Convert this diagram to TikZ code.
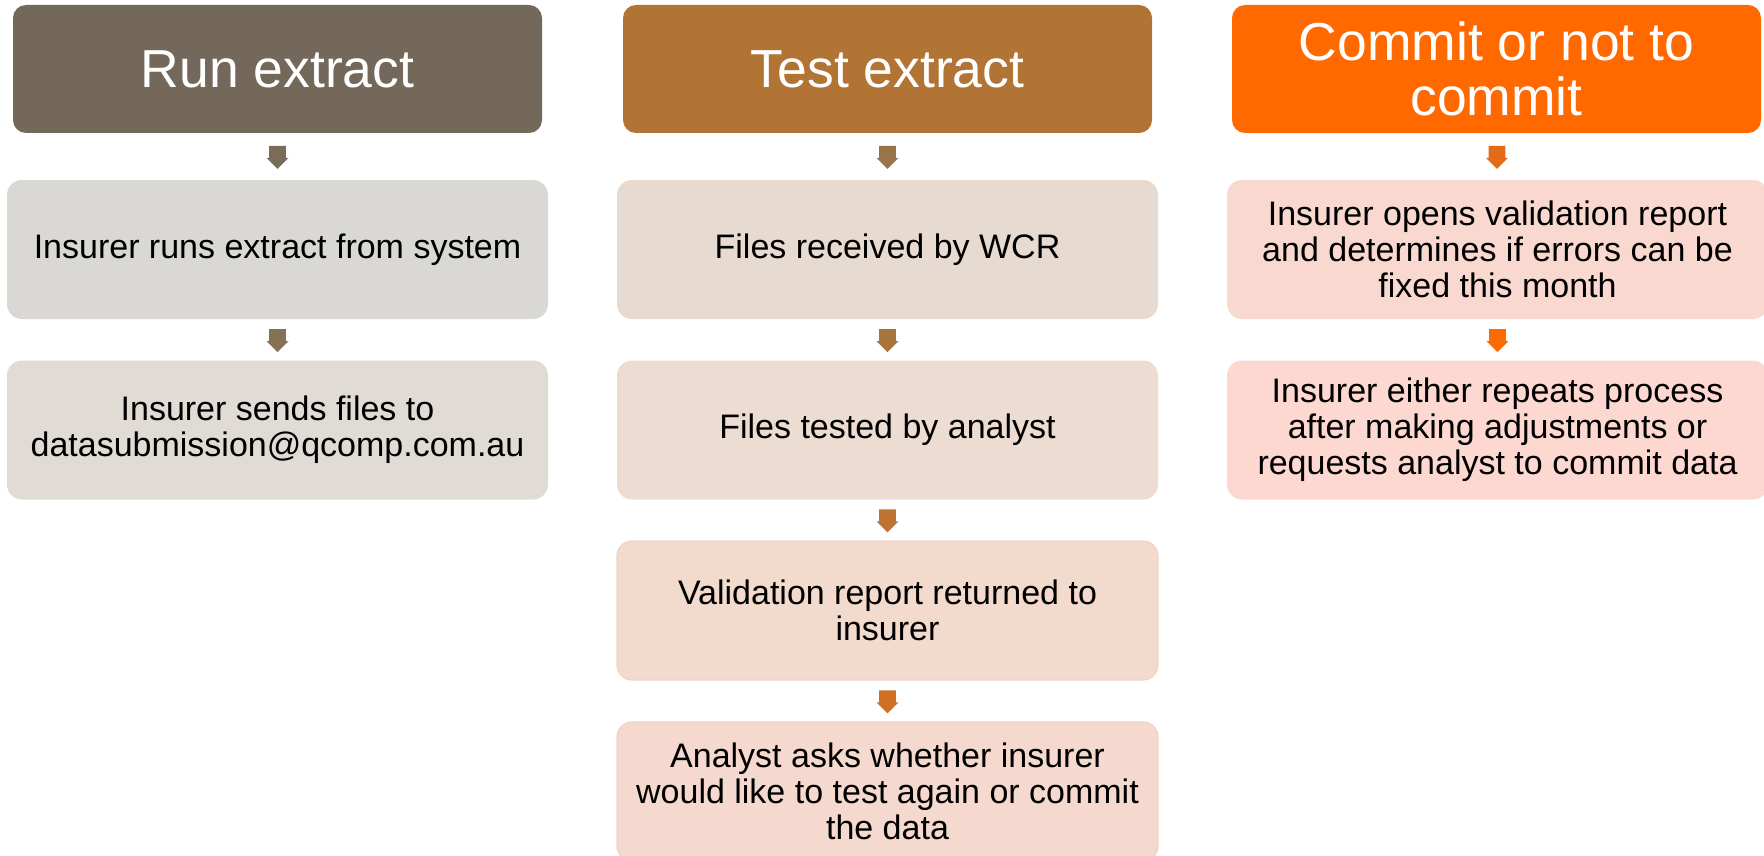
\documentclass[tikz,border=0pt]{standalone}
\usepackage{fontspec}
\setmainfont{Liberation Sans}
\usetikzlibrary{calc}
\definecolor{cAhead}{RGB}{115,104,89}
\definecolor{cAbA}{RGB}{217,216,212}
\definecolor{cAbB}{RGB}{224,219,213}
\definecolor{cAaA}{RGB}{122,108,88}
\definecolor{cAaB}{RGB}{134,113,84}
\definecolor{cBhead}{RGB}{178,116,52}
\definecolor{cBbA}{RGB}{231,218,209}
\definecolor{cBbB}{RGB}{236,220,209}
\definecolor{cBbC}{RGB}{242,218,205}
\definecolor{cBbD}{RGB}{245,217,206}
\definecolor{cBaA}{RGB}{153,116,72}
\definecolor{cBaB}{RGB}{167,116,62}
\definecolor{cBaC}{RGB}{190,114,49}
\definecolor{cBaD}{RGB}{209,112,36}
\definecolor{cChead}{RGB}{255,105,0}
\definecolor{cCbA}{RGB}{249,217,207}
\definecolor{cCbB}{RGB}{252,216,208}
\definecolor{cCaA}{RGB}{227,108,26}
\definecolor{cCaB}{RGB}{253,106,2}
\definecolor{cBrim}{RGB}{238,212,198}
\newcommand{\flowarrow}[3]{%
  \path (#1.south) -- (#2.north) coordinate[pos=0.52] (am);
  \begin{scope}[shift={(am)}]
    \fill[#3] (-8.3,-11.5) -- (8.3,-11.5) -- (8.3,0.5) -- (11,0.5) -- (0,11.5) -- (-11,0.5) -- (-8.3,0.5) -- cycle;
  \end{scope}}
\begin{document}
\begin{tikzpicture}[x=1pt,y=-1pt,
  headbox/.style={rectangle, rounded corners=13pt, minimum width=529pt, minimum height=128pt,
    inner sep=0pt, text=white, align=center, font=\fontsize{53.5}{55}\selectfont},
  stepbox/.style={rectangle, rounded corners=15pt, minimum width=541pt, minimum height=139pt,
    inner sep=0pt, text=black, align=center, font=\fontsize{34}{36}\selectfont}]
\useasboundingbox (0,0) rectangle (1764,856);
% column 1
\node[headbox, fill=cAhead] (h1) at (277.5,69) {Run extract};
\node[stepbox, fill=cAbA] (a1) at (277.5,249.5) {Insurer runs extract from system};
\node[stepbox, fill=cAbB] (a2) at (277.5,430) {Insurer sends files to\\datasubmission@qcomp.com.au};
% column 2
\node[headbox, fill=cBhead] (h2) at (887.5,69) {Test extract};
\node[stepbox, fill=cBbA] (b1) at (887.5,249.5) {Files received by WCR};
\node[stepbox, fill=cBbB] (b2) at (887.5,430) {Files tested by analyst};
\node[stepbox, fill=cBbC, draw=cBrim, line width=1.2pt] (b3) at (887.5,610.5) {Validation report returned to\\insurer};
\node[stepbox, fill=cBbD, draw=cBrim, line width=1.2pt] (b4) at (887.5,791.5) {Analyst asks whether insurer\\would like to test again or commit\\the data};
% column 3
\node[headbox, fill=cChead] (h3) at (1496.5,69) {Commit or not to\\commit};
\node[stepbox, fill=cCbA] (c1) at (1497.5,249.5) {Insurer opens validation report\\and determines if errors can be\\fixed this month};
\node[stepbox, fill=cCbB] (c2) at (1497.5,430) {Insurer either repeats process\\after making adjustments or\\requests analyst to commit data};
% arrows
\flowarrow{h1}{a1}{cAaA}
\flowarrow{a1}{a2}{cAaB}
\flowarrow{h2}{b1}{cBaA}
\flowarrow{b1}{b2}{cBaB}
\flowarrow{b2}{b3}{cBaC}
\flowarrow{b3}{b4}{cBaD}
\flowarrow{h3}{c1}{cCaA}
\flowarrow{c1}{c2}{cCaB}
\end{tikzpicture}
\end{document}
